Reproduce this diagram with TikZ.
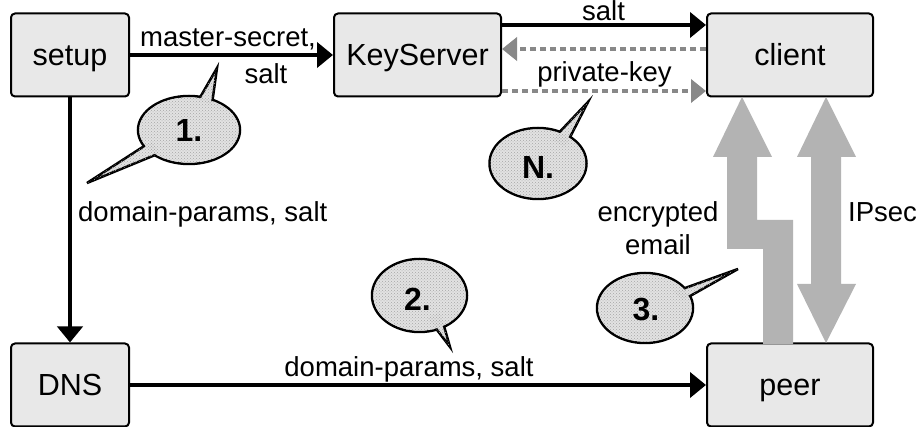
\documentclass[tikz,border=0pt]{standalone}
\usepackage{fontspec}
\setmainfont{Liberation Sans}
\usetikzlibrary{arrows.meta,patterns}
\definecolor{boxgray}{HTML}{E8E8E8}
\definecolor{dotgray}{HTML}{888888}
\definecolor{arrgray}{HTML}{B3B3B3}
\definecolor{balgray}{HTML}{E2E2E2}
\begin{document}
\begin{tikzpicture}[x=1pt,y=-1pt,
  box/.style={draw=black,line width=2pt,fill=boxgray,rounded corners=4pt,
    minimum height=83pt,inner sep=0pt,text height=21pt,text depth=0pt,
    font=\fontsize{30.5}{36}\selectfont},
  lbl/.style={inner sep=0pt,font=\fontsize{27.5}{33}\selectfont},
  blk/.style={draw=black,line width=4pt,-{Triangle[length=16pt,width=25pt]}},
  dotline/.style={draw=dotgray,line width=4pt,dash pattern=on 6pt off 4pt,
    -{Triangle[length=15pt,width=23pt]}},
  bigarrow/.style={fill=arrgray,draw=none},
  balline/.style={draw=black,line width=2.5pt,line join=miter},
  balfill/.style={fill=balgray},
  baldots/.style={pattern=crosshatch dots,pattern color=black!35},
  baltext/.style={inner sep=0pt,font=\bfseries\fontsize{32}{36}\selectfont}]
\useasboundingbox (0,0) rectangle (919,427);

% boxes
\node[box,minimum width=118pt] (setup) at (70,55) {setup};
\node[box,minimum width=167pt] (ks) at (417.5,55) {KeyServer};
\node[box,minimum width=166pt] (client) at (790,55) {client};
\node[box,minimum width=118pt] (dns) at (70,385) {DNS};
\node[box,minimum width=166pt] (peer) at (790,385) {peer};

% connectors
\draw[blk] (setup.east) -- (ks.west);
\draw[blk] (setup.south) -- (dns.north);
\draw[blk] (dns.east) -- (peer.west);
\draw[blk] ([yshift=30pt]ks.east) -- ([yshift=30pt]client.west);
\draw[dotline] ([yshift=6pt]client.west) -- ([yshift=6pt]ks.east);
\draw[dotline] ([yshift=-36pt]ks.east) -- ([yshift=-36pt]client.west);

% labels
\node[lbl,anchor=base] (lms) at (228,47) {master-secret,};
\node[lbl,anchor=base] (lms2) at (266,84) {salt};
\node[lbl,anchor=base] (lsalt) at (603.5,21) {salt};
\node[lbl,anchor=base] (lpk) at (604.5,82) {private-key};
\node[lbl,anchor=base west] (ldp1) at (78,222) {domain-params, salt};
\node[lbl,anchor=base] (ldp2) at (409,377) {domain-params, salt};
\node[lbl,anchor=base] (lenc) at (658,222) {encrypted};
\node[lbl,anchor=base] (lem) at (658,255) {email};
\node[lbl,anchor=base west] (lip) at (848,222) {IPsec};

% big gray arrows
\fill[bigarrow] (763,344) -- (793,344) -- (793,220) -- (757,220) -- (757,157)
  -- (772,157) -- (742,97) -- (713,157) -- (727,157) -- (727,249) -- (763,249) -- cycle;
\fill[bigarrow] (826,97) -- (856,157) -- (841,157) -- (841,284) -- (856,284)
  -- (826,343) -- (797,284) -- (811,284) -- (811,157) -- (797,157) -- cycle;

% balloon 1
\path[balfill,balline] (189,130) ellipse [x radius=51, y radius=34];
\path[balfill,balline] (198,101) -- (217,68) -- (212,104);
\path[balfill,balline] (152,141) -- (87,183) -- (160,153);
\fill[balfill] (189,130) ellipse [x radius=49.7, y radius=32.7];
\fill[baldots] (189,130) ellipse [x radius=50, y radius=33];
\fill[baldots] (198,101) -- (217,68) -- (212,104) -- cycle;
\fill[baldots] (152,141) -- (87,183) -- (160,153) -- cycle;
\node[baltext] (b1) at (189,130.5) {1.};

% balloon N
\path[balfill,balline] (538,163.5) ellipse [x radius=48.5, y radius=35.5];
\path[balfill,balline] (552,140) -- (588,102) -- (565,147);
\fill[balfill] (538,163.5) ellipse [x radius=47.2, y radius=34.2];
\fill[baldots] (538,163.5) ellipse [x radius=47.5, y radius=34.5];
\fill[baldots] (552,140) -- (588,102) -- (565,147) -- cycle;
\node[baltext] (bN) at (538,167) {N.};

% balloon 2
\path[balfill,balline] (419.5,295.5) ellipse [x radius=47.5, y radius=36.5];
\path[balfill,balline] (428,318) -- (450,347) -- (440,312);
\fill[balfill] (419.5,295.5) ellipse [x radius=46.2, y radius=35.2];
\fill[baldots] (419.5,295.5) ellipse [x radius=46.5, y radius=35.5];
\fill[baldots] (428,318) -- (450,347) -- (440,312) -- cycle;
\node[baltext] (b2) at (417.5,299.5) {2.};

% balloon 3
\path[balfill,balline] (645,308) ellipse [x radius=48, y radius=35];
\path[balfill,balline] (674,292) -- (738,269) -- (683,300);
\fill[balfill] (645,308) ellipse [x radius=46.7, y radius=33.7];
\fill[baldots] (645,308) ellipse [x radius=47, y radius=34];
\fill[baldots] (674,292) -- (738,269) -- (683,300) -- cycle;
\node[baltext] (b3) at (646,310) {3.};
\end{tikzpicture}
\end{document}
